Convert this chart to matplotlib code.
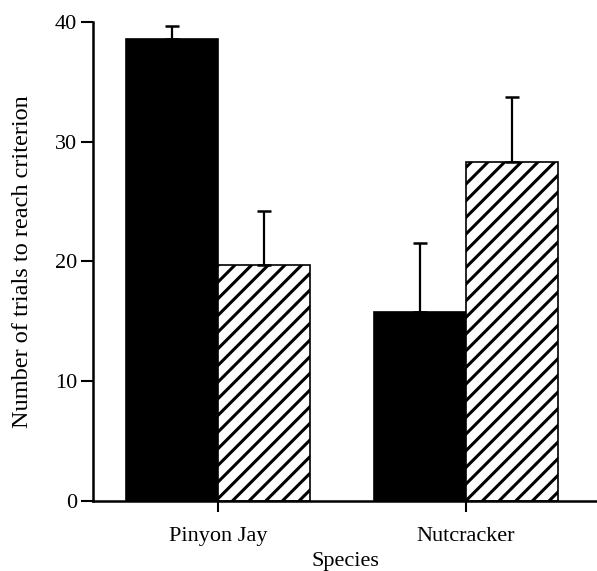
import matplotlib.pyplot as plt
import numpy as np

plt.rcParams['font.family'] = ['Liberation Serif', 'DejaVu Serif']
plt.rcParams['hatch.linewidth'] = 2.2
plt.rcParams['hatch.color'] = 'black'

# data
species = ['Pinyon Jay', 'Nutcracker']
black_means = [38.6, 15.75]
black_errs = [1.1, 5.75]
hatch_means = [19.7, 28.3]
hatch_errs = [4.5, 5.4]


def main():
    fig = plt.figure(figsize=(5.97, 5.71), dpi=100)
    ax = fig.add_axes([0.156, 0.1226, 0.844, 0.839])

    x = np.arange(len(species))
    w = 0.371
    ax.bar(x - w / 2, black_means, w, color='black', edgecolor='black', linewidth=1.2)
    ax.bar(x + w / 2, hatch_means, w, color='white', edgecolor='black', linewidth=1.2, hatch='//')
    # only upper error bars
    ax.errorbar(x - w / 2, black_means, yerr=[np.zeros(2), black_errs], fmt='none',
                ecolor='black', elinewidth=1.6, capsize=5, capthick=1.8)
    ax.errorbar(x + w / 2, hatch_means, yerr=[np.zeros(2), hatch_errs], fmt='none',
                ecolor='black', elinewidth=1.6, capsize=5, capthick=1.8)

    ax.set_xlim(-0.504, 1.528)
    ax.set_ylim(0, 40)
    ax.set_yticks([0, 10, 20, 30, 40])
    ax.set_xticks(x)
    ax.set_xticklabels(species, fontsize=16)
    ax.tick_params(axis='y', labelsize=16, length=8.5, width=1.5, direction='out', pad=3)
    ax.tick_params(axis='x', length=8, width=1.5, direction='out', pad=11)

    for s in ['top', 'right']:
        ax.spines[s].set_visible(False)
    ax.spines['left'].set_linewidth(1.8)
    ax.spines['bottom'].set_linewidth(1.8)

    ax.set_ylabel('Number of trials to reach criterion', fontsize=17.5, labelpad=16)
    ax.set_xlabel('Species', fontsize=16, labelpad=4)

    fig.savefig('out.png', dpi=100)


if __name__ == '__main__':
    main()
